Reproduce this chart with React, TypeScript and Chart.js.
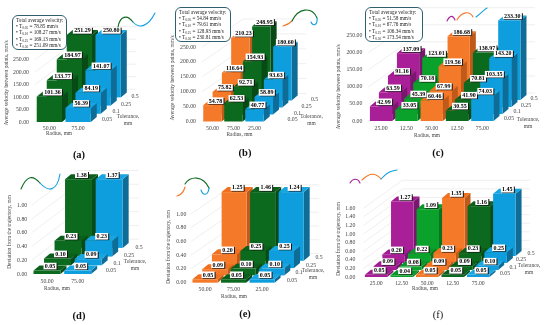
import React, { useEffect, useRef } from "react";
import { Chart, registerables } from "chart.js";

Chart.register(...registerables);

const tolerances = ["0.05", "0.1", "0.25", "0.5"];

const ORANGE = "orange";
const GREEN = "green";
const BLUE = "blue";
const PURPLE = "purple";
const LIME = "lime";

const palette: Record<string, { front: string; top: string; side: string }> = {
  orange: { front: "#F47A2A", top: "#F0701F", side: "#BF5A1B" },
  green: { front: "#0B6A1E", top: "#0A5F1B", side: "#084A15" },
  blue: { front: "#0F9EDD", top: "#17A6E2", side: "#0E6C96" },
  purple: { front: "#A91F98", top: "#A01C90", side: "#79166E" },
  lime: { front: "#0BA22B", top: "#0A9627", side: "#087420" },
};

const catsA = ["50.00", "75.00"];
const colorsA = [GREEN, BLUE];
const a005 = [101.36, 56.39];
const a010 = [133.77, 84.19];
const a025 = [184.97, 141.07];
const a050 = [251.29, 250.8];

const catsB = ["50.00", "75.00", "25.00"];
const colorsB = [ORANGE, GREEN, BLUE];
const b005 = [54.78, 62.53, 40.77];
const b010 = [75.82, 92.71, 58.89];
const b025 = [116.64, 154.93, 93.63];
const b050 = [210.23, 248.95, 180.6];

const catsC = ["25.00", "12.50", "50.00", "12.50", "75.00"];
const colorsC = [PURPLE, LIME, ORANGE, GREEN, BLUE];
const c005 = [42.99, 33.05, 60.46, 30.55, 74.03];
const c010 = [63.59, 45.39, 67.99, 41.9, 103.35];
const c025 = [91.16, 70.18, 119.56, 70.81, 143.2];
const c050 = [137.09, 123.01, 186.68, 138.97, 233.3];

const d005 = [0.05, 0.05];
const d010 = [0.1, 0.09];
const d025 = [0.23, 0.23];
const d050 = [1.38, 1.37];

const e005 = [0.05, 0.05, 0.05];
const e010 = [0.09, 0.1, 0.1];
const e025 = [0.2, 0.25, 0.25];
const e050 = [1.25, 1.46, 1.24];

const f005 = [0.05, 0.04, 0.05, 0.05, 0.05];
const f010 = [0.09, 0.08, 0.09, 0.09, 0.1];
const f025 = [0.2, 0.22, 0.23, 0.23, 0.25];
const f050 = [1.27, 1.09, 1.35, 1.16, 1.45];

const velocityTitle = "Average velocity between points, mm/s";
const deviationTitle = "Deviation from the trajectory, mm";

const panels = [
  { id: "a", cats: catsA, colors: colorsA, rows: [a005, a010, a025, a050], yMax: 250, step: 50, title: velocityTitle,
    L: 35, R: 92.5, T: 59.5, B: 122, rdx: 10, rdy: 8.2, tickPad: 6, titleX: 7, titleY: 83, radX: 59, radY: 134, cxLabelY: 128,
    tolX: [107, 116, 126, 135], tolY: [119, 111, 104, 96], tolTitle: [128, 117] },
  { id: "b", cats: catsB, colors: colorsB, rows: [b005, b010, b025, b050], yMax: 250, step: 50, title: velocityTitle,
    L: 201.5, R: 264.5, T: 47, B: 121.5, rdx: 9.3, rdy: 7, tickPad: 6, titleX: 172.5, titleY: 78, radX: 239, radY: 135, cxLabelY: 128,
    tolX: [292, 297, 306, 314], tolY: [119, 113, 106, 99], tolTitle: [311, 117] },
  { id: "c", cats: catsC, colors: colorsC, rows: [c005, c010, c025, c050], yMax: 250, step: 50, title: velocityTitle,
    L: 368.4, R: 495, T: 35.7, B: 121, rdx: 9, rdy: 7, tickPad: 6, titleX: 339, titleY: 87, radX: 427, radY: 136, cxLabelY: 128,
    tolX: [509, 517, 526, 534], tolY: [118, 111, 105, 98], tolTitle: [528, 120] },
  { id: "d", cats: catsA, colors: colorsA, rows: [d005, d010, d025, d050], yMax: 1, step: 0.2, title: deviationTitle,
    L: 31.7, R: 93, T: 205.3, B: 274, rdx: 10.5, rdy: 8.7, tickPad: 4.5, titleX: 10, titleY: 232, radX: 57, radY: 289, cxLabelY: 281,
    tolX: [111, 117, 129, 139], tolY: [270, 263, 255, 247], tolTitle: [135, 262] },
  { id: "e", cats: catsB, colors: colorsB, rows: [e005, e010, e025, e050], yMax: 1, step: 0.2, title: deviationTitle,
    L: 190.8, R: 276.3, T: 214, B: 282.7, rdx: 9.7, rdy: 7.3, tickPad: 4.5, titleX: 169, titleY: 247, radX: 234, radY: 297, cxLabelY: 289,
    tolX: [292, 299, 311, 319], tolY: [280, 272, 265, 257], tolTitle: [313, 271] },
  { id: "f", cats: catsC, colors: colorsC, rows: [f005, f010, f025, f050], yMax: 1.6, step: 0.2, title: deviationTitle,
    L: 363.4, R: 491, T: 208.3, B: 277, rdx: 8.7, rdy: 7, tickPad: 8, titleX: 339, titleY: 239, radX: 425, radY: 289, cxLabelY: 282.7,
    tolX: [505, 513, 521, 531], tolY: [273, 267, 259, 253], tolTitle: [529, 266] },
];

const FONT = "'Liberation Serif', 'Times New Roman', serif";
const DEPTH_X = 6;
const DEPTH_Y = 5;

const legendA = ["78.85", "108.27", "169.13", "251.09"];
const legendB = ["54.84", "79.61", "128.93", "230.81"];
const legendC = ["51.58", "67.76", "106.34", "173.54"];
const legendSubs = ["0.05", "0.10", "0.25", "0.50"];

const callouts = [
  { values: legendA, left: 12, top: 15, width: 55, height: 35 },
  { values: legendB, left: 175, top: 7, width: 56, height: 35 },
  { values: legendC, left: 365, top: 7, width: 58, height: 35 },
];

const captions = [
  { text: "(a)", x: 79, y: 155, bold: true },
  { text: "(b)", x: 245, y: 153, bold: true },
  { text: "(c)", x: 438, y: 153, bold: true },
  { text: "(d)", x: 79, y: 316, bold: true },
  { text: "(e)", x: 245, y: 314, bold: true },
  { text: "(f)", x: 438, y: 315, bold: false },
];

const C_G = "#0B6A1E";
const C_B = "#0F9EDD";
const C_O = "#F47A2A";
const C_P = "#A91F98";
const curves = [
  { c: C_G, d: "M118 27 C120 16 127 14 133 22" },
  { c: C_B, d: "M133 22 C139 29 148 27 155 13" },
  { c: C_O, d: "M283 26 C287 25 289 24 292 21" },
  { c: C_G, d: "M292 21 C298 8 312 6 317 18" },
  { c: C_B, d: "M317 18 C318 25 313 27 311 22" },
  { c: C_P, d: "M447 21 C450 15 453 15 455 20" },
  { c: C_O, d: "M457 20 C462 11 470 11 473 17" },
  { c: C_B, d: "M476 17 C481 13 485 9 487 8" },
  { c: C_G, d: "M21 189 C27 175 33 175 40 183" },
  { c: C_B, d: "M40 183 C48 192 57 192 60 174" },
  { c: C_O, d: "M177 196 C181 195 184 191 185 187" },
  { c: C_G, d: "M185 184 C190 176 203 175 209 188" },
  { c: C_B, d: "M209 188 C208 196 203 196 201 190" },
  { c: C_P, d: "M350 183 C353 178 358 178 360 183" },
  { c: C_O, d: "M362 180 C370 172 376 173 381 179" },
  { c: C_B, d: "M381 179 C387 172 391 171 397 170" },
];

function fmt(n: number, digits = 2) {
  return n.toFixed(digits);
}

function Panel({ p }: { p: (typeof panels)[number] }) {
  const ref = useRef<HTMLCanvasElement>(null);
  const cLeft = p.titleX - 6;
  const cTop = p.id === "a" || p.id === "b" || p.id === "c" ? 0 : 165;
  const W = 220;
  const H = 160;

  useEffect(() => {
    const L = p.L - cLeft;
    const R = p.R - cLeft;
    const T = p.T - cTop;
    const B = p.B - cTop;

    const bars3d = {
      id: "bars3d",
      beforeDatasetsDraw(chart: any) {
        const ctx = chart.ctx;
        const y = chart.scales.y;
        ctx.save();
        ctx.strokeStyle = "#e4e4e4";
        ctx.lineWidth = 0.6;
        const backX = 4 * p.rdx + DEPTH_X - 2;
        const backY = 4 * p.rdy;
        y.ticks.forEach((t: any) => {
          const py = y.getPixelForValue(t.value);
          ctx.beginPath();
          ctx.moveTo(y.left + y.width, py);
          ctx.lineTo(chart.chartArea.left + backX, py - backY);
          ctx.lineTo(chart.chartArea.right + backX, py - backY);
          ctx.stroke();
        });
        ctx.restore();
      },
      afterDatasetsDraw(chart: any) {
        const ctx = chart.ctx;
        const top = chart.chartArea.top;
        const faces: any[] = [];
        for (let r = 0; r < p.rows.length; r++) {
          chart.getDatasetMeta(r).data.forEach((el: any, i: number) => {
            const b = el.getProps(["x", "y", "base", "width"], true);
            faces.push({ r, i, b });
          });
        }
        ctx.save();
        for (let r = p.rows.length - 1; r >= 0; r--) {
          faces
            .filter((f) => f.r === r)
            .forEach((f) => {
              const col = palette[p.colors[f.i]];
              const ox = r * p.rdx;
              const oy = -r * p.rdy;
              const x0 = f.b.x - f.b.width / 2 + ox;
              const x1 = f.b.x + f.b.width / 2 + ox;
              const yb = f.b.base + oy;
              const yt = Math.max(f.b.y, top) + oy;
              ctx.fillStyle = col.side;
              ctx.beginPath();
              ctx.moveTo(x1, yb);
              ctx.lineTo(x1 + DEPTH_X, yb - DEPTH_Y);
              ctx.lineTo(x1 + DEPTH_X, yt - DEPTH_Y);
              ctx.lineTo(x1, yt);
              ctx.closePath();
              ctx.fill();
              ctx.fillStyle = col.top;
              ctx.beginPath();
              ctx.moveTo(x0, yt);
              ctx.lineTo(x0 + DEPTH_X, yt - DEPTH_Y);
              ctx.lineTo(x1 + DEPTH_X, yt - DEPTH_Y);
              ctx.lineTo(x1, yt);
              ctx.closePath();
              ctx.fill();
              ctx.fillStyle = col.front;
              ctx.fillRect(x0, yt, x1 - x0, yb - yt);
            });
        }
        ctx.font = `bold 6px ${FONT}`;
        ctx.textAlign = "center";
        ctx.textBaseline = "middle";
        for (let r = p.rows.length - 1; r >= 0; r--) {
          faces
            .filter((f) => f.r === r)
            .forEach((f) => {
              const ox = r * p.rdx;
              const oy = -r * p.rdy;
              const yt = Math.max(f.b.y, top) + oy;
              const cx = f.b.x + ox + DEPTH_X / 2;
              const cy = yt - 4.5;
              const s = fmt(p.rows[r][f.i]);
              const w = ctx.measureText(s).width + 2.5;
              const h = 6.6;
              ctx.fillStyle = "#111";
              ctx.fillRect(cx - w / 2 + 1, cy - h / 2 + 0.6, w, h);
              ctx.fillStyle = "#fff";
              ctx.fillRect(cx - w / 2, cy - h / 2, w, h);
              ctx.fillStyle = "#000";
              ctx.fillText(s, cx, cy + 0.3);
            });
        }
        ctx.fillStyle = "#444";
        ctx.font = `5.8px ${FONT}`;
        tolerances.forEach((t, i) => {
          ctx.fillText(t, p.tolX[i] - cLeft, p.tolY[i] - cTop);
        });
        ctx.font = `5.4px ${FONT}`;
        ctx.fillText("Tolerance,", p.tolTitle[0] - cLeft, p.tolTitle[1] - cTop);
        ctx.fillText("mm", p.tolTitle[0] - cLeft, p.tolTitle[1] - cTop + 6.5);
        ctx.fillText("Radius, mm", p.radX - cLeft, p.radY - cTop);
        ctx.translate(p.titleX - cLeft, p.titleY - cTop);
        ctx.rotate(-Math.PI / 2);
        ctx.fillText(p.title, 0, 0);
        ctx.restore();
      },
    };

    const chart = new Chart(ref.current as HTMLCanvasElement, {
      type: "bar",
      data: {
        labels: p.cats,
        datasets: p.rows.map((values, r) => ({
          label: tolerances[r],
          data: values,
          backgroundColor: "rgba(0,0,0,0)",
          grouped: false,
          barPercentage: 0.88,
          categoryPercentage: 1,
        })),
      },
      options: {
        responsive: false,
        animation: false,
        layout: { padding: { left: 0, top: T, right: W - R, bottom: 0 } },
        plugins: { legend: { display: false }, title: { display: false }, tooltip: { enabled: false } },
        scales: {
          x: {
            grid: { display: false, drawTicks: false },
            border: { display: false },
            ticks: {
              color: "#444",
              font: { family: FONT, size: 5.8 },
              padding: p.cxLabelY - p.B - 3,
              maxRotation: 0,
              autoSkip: false,
            },
            afterFit: (s: any) => {
              s.height = H - B;
            },
          },
          y: {
            min: 0,
            max: p.yMax,
            grid: { display: false, drawTicks: false },
            border: { display: false },
            ticks: {
              stepSize: p.step,
              autoSkip: false,
              color: "#444",
              font: { family: FONT, size: 5.8 },
              padding: p.tickPad,
              callback: (v: any) => Number(v).toFixed(2),
            },
            afterFit: (s: any) => {
              s.width = L;
            },
          },
        },
      },
      plugins: [bars3d],
    } as any);
    return () => chart.destroy();
  }, []);

  return (
    <canvas
      ref={ref}
      width={W}
      height={H}
      style={{ position: "absolute", left: cLeft, top: cTop, width: W, height: H, display: "block" }}
    />
  );
}

export default function App() {
  return (
    <div style={{ position: "absolute", left: 0, top: 0, width: 550, height: 325, background: "#fff", overflow: "hidden", fontFamily: FONT }}>
      {panels.map((p) => (
        <Panel key={p.id} p={p} />
      ))}
      <svg width={550} height={325} style={{ position: "absolute", left: 0, top: 0, pointerEvents: "none" }}>
        {curves.map((c, i) => (
          <path key={i} d={c.d} fill="none" stroke={c.c} strokeWidth={1.1} strokeLinecap="round" />
        ))}
      </svg>
      {callouts.map((c, i) => (
        <div
          key={i}
          style={{
            position: "absolute",
            left: c.left,
            top: c.top,
            width: c.width,
            height: c.height,
            boxSizing: "border-box",
            border: "1px solid #2F6070",
            borderRadius: 6,
            background: "#fff",
            color: "#222",
            fontSize: 5.2,
            lineHeight: "6.2px",
            padding: "1px 1px 0 3px",
            whiteSpace: "nowrap",
            overflow: "hidden",
          }}
        >
          <div style={{ height: 6.2 }}>Total average velocity:</div>
          {c.values.map((v, j) => (
            <div key={j} style={{ height: 6.2, lineHeight: "6.2px" }}>
              {"• T"}
              <span style={{ fontSize: 3.4, position: "relative", top: 1 }}>{legendSubs[j]}</span>
              {" = " + v + " mm/s"}
            </div>
          ))}
        </div>
      ))}
      {captions.map((c, i) => (
        <div
          key={i}
          style={{
            position: "absolute",
            left: c.x - 15,
            top: c.y - 7,
            width: 30,
            textAlign: "center",
            fontSize: 10.5,
            lineHeight: "14px",
            fontWeight: c.bold ? 700 : 400,
            color: "#111",
          }}
        >
          {c.text}
        </div>
      ))}
    </div>
  );
}
